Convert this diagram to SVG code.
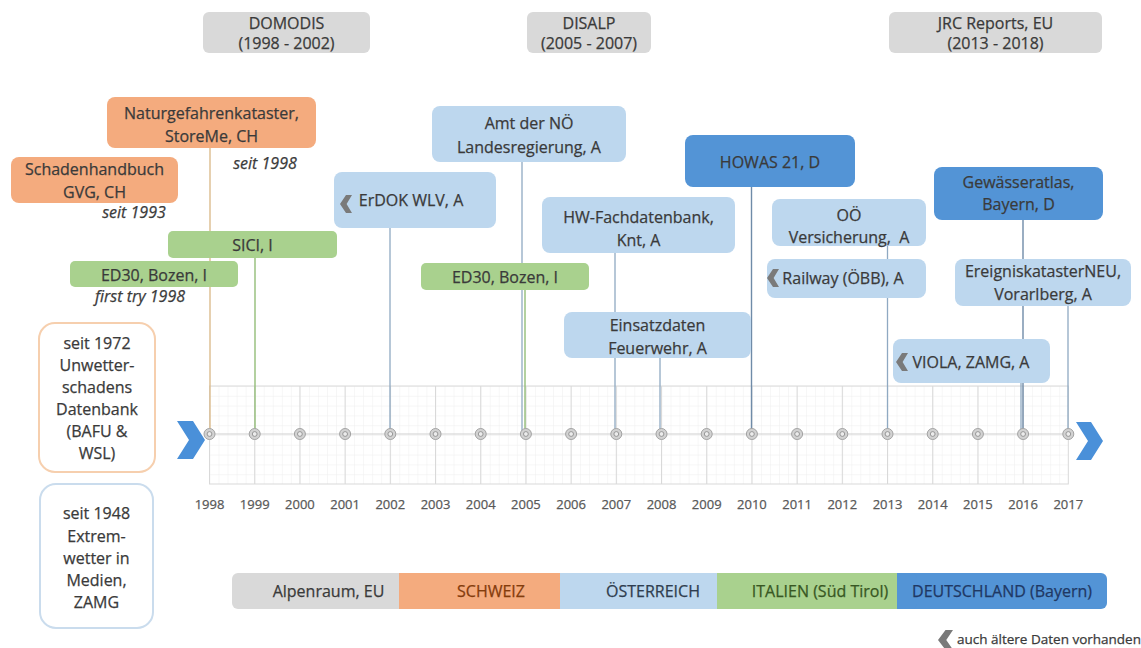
<svg xmlns="http://www.w3.org/2000/svg" width="1141" height="648" viewBox="0 0 1141 648">
<style>
text{font-family:"Open Sans","Liberation Sans",sans-serif;font-size:16px;fill:#3a3a3a;stroke:#3a3a3a;stroke-width:0.25;text-anchor:middle}
.it{font-style:italic}
.yr{font-size:13px;fill:#595959;stroke:#595959}
.sm{font-size:13.5px;text-anchor:start}
.gray{fill:#d9d9d9}
.or{fill:#f4ab7e}
.gr{fill:#a9d18e}
.lb{fill:#bdd7ee}
.db{fill:#5394d6}
.cb{stroke:#8fa9c2;stroke-width:1.3;fill:none}
.cd{stroke:#6f8ba8;stroke-width:1.4;fill:none}
.co{stroke:#dcbc8e;stroke-width:1.4;fill:none}
.cg{stroke:#93bd78;stroke-width:1.4;fill:none}
.maj{stroke:#d9d9d9;stroke-width:1;fill:none}
</style>
<defs>
<path id="chev" d="M12,0 L6.6,9 L12,18 L6,18 L0,9 L6,0 Z" fill="#7a7a7a"/>
<pattern id="minor" x="209.5" y="386" width="9.04" height="9.8" patternUnits="userSpaceOnUse">
<path d="M0,0 V9.8 M0,0 H9.04" stroke="#eeeeee" stroke-width="1" fill="none"/>
</pattern>
<g id="dot"><circle r="5.5" fill="#d2d2d2" stroke="#a3a3a3" stroke-width="1"/><circle r="2.4" fill="#ececec" stroke="#8f8f8f" stroke-width="0.9"/></g>
</defs>

<!-- timeline grid -->
<g id="timeline">
<rect x="209.5" y="386" width="858.8" height="98" fill="url(#minor)"/>
<rect x="209.5" y="386" width="858.8" height="98" class="maj"/>
<path class="maj" d="M254.7,386V484 M299.9,386V484 M345.1,386V484 M390.3,386V484 M435.5,386V484 M480.7,386V484 M525.9,386V484 M571.1,386V484 M616.3,386V484 M661.5,386V484 M706.7,386V484 M751.9,386V484 M797.1,386V484 M842.3,386V484 M887.5,386V484 M932.7,386V484 M977.9,386V484 M1023.1,386V484"/>
<path d="M209.5,434H1068.3" stroke="#d0d0d0" stroke-width="1.2"/>
<polygon points="177,421 193,421 205,440 193,459 177,459 189,440" fill="#4a90d9"/>
<polygon points="1076,422 1091,422 1103,441 1091,460 1076,460 1088,441" fill="#4a90d9"/>
</g>

<!-- connectors -->
<g id="connectors">
<path class="co" d="M210,148V434"/>
<path class="cg" d="M255,258V434"/>
<path class="cb" d="M390,228V434"/>
<path class="cb" d="M522,162V434"/>
<path class="cg" d="M525,290V434"/>
<path class="cb" d="M615,253V434"/>
<path class="cb" d="M660,358V434"/>
<path class="cd" d="M751.5,187V434"/>
<path class="cb" d="M887.5,246V434"/>
<path class="cd" d="M1023,220V434"/>
<path class="cb" d="M1021,383V434"/>
<path class="cb" d="M1068,306V434"/>
</g>

<!-- timeline dots -->
<g id="dots">
<use href="#dot" x="209.5" y="434"/><use href="#dot" x="254.7" y="434"/><use href="#dot" x="299.9" y="434"/><use href="#dot" x="345.1" y="434"/><use href="#dot" x="390.3" y="434"/><use href="#dot" x="435.5" y="434"/><use href="#dot" x="480.7" y="434"/><use href="#dot" x="525.9" y="434"/><use href="#dot" x="571.1" y="434"/><use href="#dot" x="616.3" y="434"/><use href="#dot" x="661.5" y="434"/><use href="#dot" x="706.7" y="434"/><use href="#dot" x="751.9" y="434"/><use href="#dot" x="797.1" y="434"/><use href="#dot" x="842.3" y="434"/><use href="#dot" x="887.5" y="434"/><use href="#dot" x="932.7" y="434"/><use href="#dot" x="977.9" y="434"/><use href="#dot" x="1023.1" y="434"/><use href="#dot" x="1068.3" y="434"/>
</g>

<g id="years">
<text class="yr" x="209.5" y="509">1998</text><text class="yr" x="254.7" y="509">1999</text><text class="yr" x="299.9" y="509">2000</text><text class="yr" x="345.1" y="509">2001</text><text class="yr" x="390.3" y="509">2002</text><text class="yr" x="435.5" y="509">2003</text><text class="yr" x="480.7" y="509">2004</text><text class="yr" x="525.9" y="509">2005</text><text class="yr" x="571.1" y="509">2006</text><text class="yr" x="616.3" y="509">2007</text><text class="yr" x="661.5" y="509">2008</text><text class="yr" x="706.7" y="509">2009</text><text class="yr" x="751.9" y="509">2010</text><text class="yr" x="797.1" y="509">2011</text><text class="yr" x="842.3" y="509">2012</text><text class="yr" x="887.5" y="509">2013</text><text class="yr" x="932.7" y="509">2014</text><text class="yr" x="977.9" y="509">2015</text><text class="yr" x="1023.1" y="509">2016</text><text class="yr" x="1068.3" y="509">2017</text>
</g>

<!-- projects -->
<g id="domodis"><rect class="gray" x="203" y="12" width="167" height="41" rx="6"/><text x="286.5" y="28.5">DOMODIS</text><text x="286.5" y="49">(1998 - 2002)</text></g>
<g id="disalp"><rect class="gray" x="527" y="12" width="124" height="41" rx="6"/><text x="589" y="28.5">DISALP</text><text x="589" y="49">(2005 - 2007)</text></g>
<g id="jrc"><rect class="gray" x="889" y="12" width="213" height="41" rx="6"/><text x="995.5" y="28.5">JRC Reports, EU</text><text x="995.5" y="49">(2013 - 2018)</text></g>

<!-- Schweiz -->
<g id="naturgefahren"><rect class="or" x="107" y="97" width="209" height="51" rx="8"/><text x="211.5" y="118.5">Naturgefahrenkataster,</text><text x="211.5" y="141.5">StoreMe, CH</text><text class="it" x="265" y="168.5">seit 1998</text></g>
<g id="schadenhandbuch"><rect class="or" x="11" y="157" width="167" height="46" rx="8"/><text x="94.5" y="174.5">Schadenhandbuch</text><text x="94.5" y="197.5">GVG, CH</text><text class="it" x="134" y="217.5">seit 1993</text></g>

<!-- Italien -->
<g id="sici"><rect class="gr" x="168" y="231" width="169" height="27" rx="5"/><text x="252.5" y="250.5">SICI, I</text></g>
<g id="ed30a"><rect class="gr" x="70" y="261" width="168" height="26" rx="5"/><text x="154" y="280.5">ED30, Bozen, I</text><text class="it" x="140" y="302">first try 1998</text></g>
<g id="ed30b"><rect class="gr" x="421" y="263" width="168" height="27" rx="5"/><text x="505" y="282.5">ED30, Bozen, I</text></g>

<!-- Oesterreich -->
<g id="erdok"><rect class="lb" x="334" y="172" width="162" height="56" rx="8"/><use href="#chev" x="340" y="195"/><text x="411" y="205.5">ErDOK WLV, A</text></g>
<g id="amtnoe"><rect class="lb" x="432" y="106" width="194" height="56" rx="8"/><text x="529" y="128.5">Amt der NÖ</text><text x="529" y="152.5">Landesregierung, A</text></g>
<g id="hwfach"><rect class="lb" x="542" y="197" width="193" height="56" rx="8"/><text x="638.5" y="222.5">HW-Fachdatenbank,</text><text x="638.5" y="245.5">Knt, A</text></g>
<g id="einsatz"><rect class="lb" x="564" y="312" width="187" height="46" rx="8"/><text x="657.5" y="330.5">Einsatzdaten</text><text x="657.5" y="353.5">Feuerwehr, A</text></g>
<g id="ooe"><rect class="lb" x="772" y="199" width="154" height="47" rx="8"/><text x="849" y="220.5">OÖ</text><text x="849" y="242.5">Versicherung,&#160; A</text></g>
<g id="railway"><rect class="lb" x="767" y="259" width="159" height="39" rx="8"/><use href="#chev" x="767" y="269"/><text x="843" y="283.5">Railway (ÖBB), A</text></g>
<g id="ereignis"><rect class="lb" x="955" y="259" width="176" height="47" rx="8"/><text x="1043" y="277">EreigniskatasterNEU,</text><text x="1043" y="299.5">Vorarlberg, A</text></g>
<g id="viola"><rect class="lb" x="893" y="339" width="157" height="44" rx="8"/><use href="#chev" x="896" y="353"/><text x="971" y="367.5">VIOLA, ZAMG, A</text></g>

<!-- Deutschland -->
<g id="howas"><rect class="db" x="685" y="135" width="170" height="52" rx="8"/><text x="770" y="167.5">HOWAS 21, D</text></g>
<g id="gewaesser"><rect class="db" x="934" y="167" width="169" height="53" rx="8"/><text x="1018.5" y="188">Gewässeratlas,</text><text x="1018.5" y="210">Bayern, D</text></g>

<!-- left side boxes -->
<g id="unwetter"><rect x="39" y="323" width="116" height="149" rx="16" fill="#ffffff" stroke="#f6cfae" stroke-width="2"/>
<text x="97" y="348.5">seit 1972</text><text x="97" y="370.5">Unwetter-</text><text x="97" y="392.5">schadens</text><text x="97" y="414.5">Datenbank</text><text x="97" y="437">(BAFU &amp;</text><text x="97" y="458.5">WSL)</text></g>
<g id="extremwetter"><rect x="40" y="484" width="113" height="144" rx="16" fill="#ffffff" stroke="#cadced" stroke-width="2"/>
<text x="96.5" y="518.5">seit 1948</text><text x="96.5" y="541.5">Extrem-</text><text x="96.5" y="563.5">wetter in</text><text x="96.5" y="585.5">Medien,</text><text x="96.5" y="607.5">ZAMG</text></g>

<!-- legend -->
<g id="legend">
<rect class="gray" x="232" y="573" width="180" height="36" rx="6"/>
<rect class="db" x="880" y="573" width="227" height="36" rx="6"/>
<rect class="or" x="399" y="573" width="161" height="36"/>
<rect class="lb" x="560" y="573" width="157" height="36"/>
<rect class="gr" x="717" y="573" width="180" height="36"/>
<rect class="db" x="897" y="573" width="20" height="36" rx="5"/>
<text x="328.5" y="596.5">Alpenraum, EU</text>
<text x="491" y="596.5" style="fill:#843c0c;stroke:#843c0c">SCHWEIZ</text>
<text x="653" y="596.5" style="fill:#2f3d4f;stroke:#2f3d4f">ÖSTERREICH</text>
<text x="820" y="596.5" style="fill:#385723;stroke:#385723">ITALIEN (Süd Tirol)</text>
<text x="1002" y="596.5" style="fill:#1f3864;stroke:#1f3864">DEUTSCHLAND (Bayern)</text>
</g>
<g id="note"><use href="#chev" transform="translate(938,630) scale(1.25,1.1)"/><text class="sm" x="957" y="644">auch ältere Daten vorhanden</text></g>
</svg>
